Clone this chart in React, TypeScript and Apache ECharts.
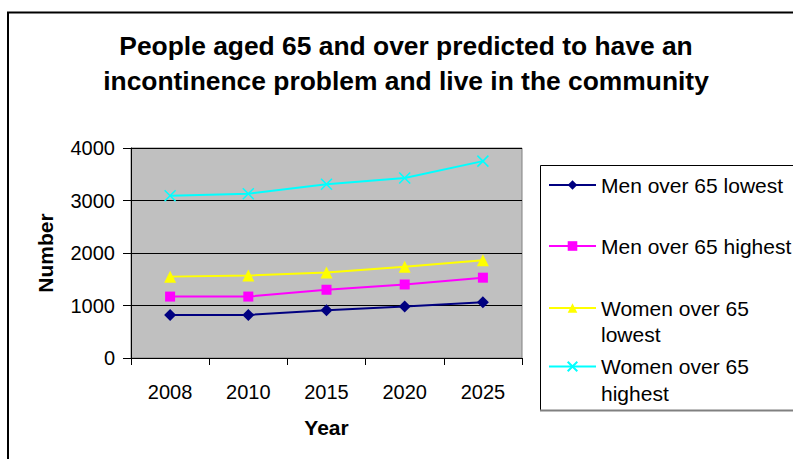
import React, { useEffect, useRef } from "react";
import * as echarts from "echarts";

const years = ["2008", "2010", "2015", "2020", "2025"];
const menLowest = [820, 820, 910, 980, 1060];
const menHighest = [1170, 1170, 1300, 1400, 1530];
const womenLowest = [1550, 1570, 1630, 1740, 1860];
const womenHighest = [3090, 3130, 3310, 3430, 3750];
const yTicks = { min: 0, max: 4000, interval: 1000 };

const seriesNames = [
  "Men over 65 lowest",
  "Men over 65 highest",
  "Women over 65 lowest",
  "Women over 65 highest",
];
const legendLabels = [
  "Men over 65 lowest",
  "Men over 65 highest",
  "\nWomen over 65\nlowest",
  "\nWomen over 65\nhighest",
];

const FONT = "'Liberation Sans', Arial, sans-serif";
const CROSS = "path://M0,0L10,10M10,0L0,10";

export default function App() {
  const ref = useRef<HTMLDivElement>(null);
  useEffect(() => {
    if (!ref.current) return;
    const chart = echarts.init(ref.current, null, { renderer: "svg" });
    const legendTops = [174, 235, 269, 326];
    const legendLH = [22, 22, 26, 27];
    const legends = seriesNames.map((n, i) => ({
      orient: "vertical",
      left: 548,
      top: legendTops[i],
      padding: 0,
      itemWidth: 47,
      itemHeight: 12,
      itemGap: 0,
      data: [n],
      selectedMode: false,
      formatter: () => legendLabels[i],
      textStyle: {
        fontFamily: FONT,
        fontSize: 21,
        color: "#000",
        lineHeight: legendLH[i],
      },
    }));
    const mk = (name: string, data: number[], color: string, symbol: string, size: number, extra: any = {}) => ({
      name,
      type: "line",
      data,
      symbol,
      symbolSize: size,
      lineStyle: { color, width: 2 },
      itemStyle: { color, ...extra },
      emphasis: { disabled: true },
    });
    chart.setOption({
      animation: false,
      backgroundColor: "#fff",
      textStyle: { fontFamily: FONT },
      title: {
        text: "People aged 65 and over predicted to have an\nincontinence problem and live in the community",
        left: 401,
        top: 23,
        textAlign: "center",
        textStyle: {
          fontFamily: FONT,
          fontSize: 26.4,
          fontWeight: "bold",
          color: "#000",
          lineHeight: 35,
        },
      },
      legend: legends,
      grid: {
        left: 131,
        top: 148,
        width: 391,
        height: 210,
        show: true,
        backgroundColor: "#C0C0C0",
        borderColor: "#808080",
        borderWidth: 1,
      },
      xAxis: {
        type: "category",
        data: years,
        boundaryGap: true,
        name: "Year",
        nameLocation: "middle",
        nameGap: 59,
        nameTextStyle: { fontFamily: FONT, fontSize: 21, fontWeight: "bold", color: "#000" },
        axisLine: { lineStyle: { color: "#000", width: 1 } },
        axisTick: { show: true, length: 7, alignWithLabel: false, lineStyle: { color: "#000" } },
        axisLabel: { fontFamily: FONT, fontSize: 20, color: "#000", margin: 24 },
        splitLine: { show: false },
      },
      yAxis: {
        type: "value",
        min: yTicks.min,
        max: yTicks.max,
        interval: yTicks.interval,
        name: "Number",
        nameLocation: "middle",
        nameGap: 75,
        nameRotate: 90,
        nameTextStyle: { fontFamily: FONT, fontSize: 21, fontWeight: "bold", color: "#000" },
        axisLine: { show: true, lineStyle: { color: "#000", width: 1 } },
        axisTick: { show: true, length: 8, lineStyle: { color: "#000" } },
        axisLabel: {
          fontFamily: FONT,
          fontSize: 20,
          color: "#000",
          margin: 16,
          formatter: (v: number) => String(v),
        },
        splitLine: { show: true, lineStyle: { color: "#000", width: 1 } },
      },
      series: [
        mk(seriesNames[0], menLowest, "#000080", "diamond", 12),
        mk(seriesNames[1], menHighest, "#FF00FF", "rect", 10),
        mk(seriesNames[2], womenLowest, "#FFFF00", "triangle", 12),
        mk(seriesNames[3], womenHighest, "#00FFFF", CROSS, 11, {
          color: "rgba(0,0,0,0)",
          borderColor: "#00FFFF",
          borderWidth: 1.5,
        }),
      ],
      graphic: [
        {
          type: "rect",
          shape: { x: 8, y: 12.5, width: 800, height: 460 },
          style: { fill: "none", stroke: "#000", lineWidth: 2 },
          silent: true,
        },
        {
          type: "rect",
          shape: { x: 540.5, y: 165.5, width: 260, height: 245 },
          style: { fill: "none", stroke: "#000", lineWidth: 1 },
          silent: true,
        },
        {
          type: "line",
          shape: { x1: 540, y1: 410.5, x2: 800, y2: 410.5 },
          style: { stroke: "#808080", lineWidth: 2 },
          silent: true,
        },
      ],
    });
    return () => chart.dispose();
  }, []);
  return (
    <div
      ref={ref}
      style={{ position: "fixed", left: 0, top: 0, width: 793, height: 459, background: "#fff" }}
    />
  );
}
